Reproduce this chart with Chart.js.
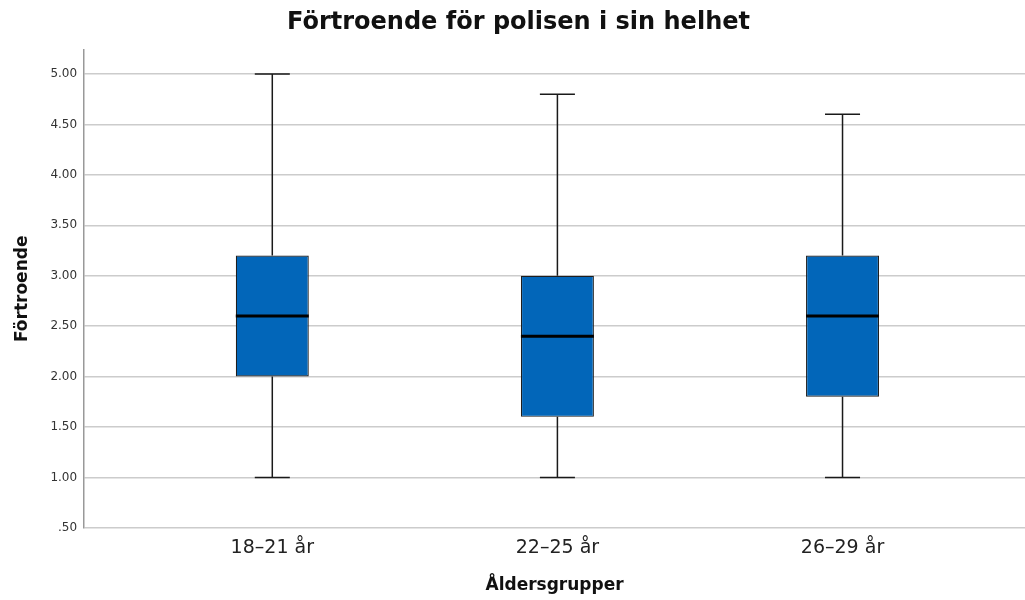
<!DOCTYPE html>
<html>
<head>
<meta charset="utf-8">
<script src="https://cdn.jsdelivr.net/npm/chart.js@4"></script>
<style>
  html, body { margin: 0; padding: 0; background: #fff; }
  #wrap { width: 1025px; height: 600px; }
</style>
</head>
<body>
<div id="wrap"><canvas id="boxChart"></canvas></div>
<script>
const categories = ['18–21 år', '22–25 år', '26–29 år'];
const mins    = [1.0, 1.0, 1.0];
const q1s     = [2.0, 1.6, 1.8];
const medians = [2.6, 2.4, 2.6];
const q3s     = [3.2, 3.0, 3.2];
const maxs    = [5.0, 4.8, 4.6];

const FONT = '"DejaVu Sans", sans-serif';

// whiskers behind the boxes, medians on top
const boxPlot = {
  id: 'boxPlot',
  beforeDatasetsDraw(chart) {
    const ctx = chart.ctx;
    const xs = chart.scales.x, ys = chart.scales.y;
    const bars = chart.getDatasetMeta(0).data;
    ctx.save();
    ctx.strokeStyle = '#1a1a1a';
    ctx.lineWidth = 1.5;
    categories.forEach((c, i) => {
      const x = xs.getPixelForValue(i);
      const cap = bars[i].width * 0.48;
      ctx.beginPath();
      ctx.moveTo(x, ys.getPixelForValue(mins[i]));
      ctx.lineTo(x, ys.getPixelForValue(q1s[i]));
      ctx.moveTo(x, ys.getPixelForValue(q3s[i]));
      ctx.lineTo(x, ys.getPixelForValue(maxs[i]));
      [mins[i], maxs[i]].forEach(v => {
        const y = ys.getPixelForValue(v);
        ctx.moveTo(x - cap / 2, y);
        ctx.lineTo(x + cap / 2, y);
      });
      ctx.stroke();
    });
    ctx.restore();
  },
  afterDatasetsDraw(chart) {
    const ctx = chart.ctx;
    const ys = chart.scales.y;
    const bars = chart.getDatasetMeta(0).data;
    ctx.save();
    ctx.strokeStyle = '#000';
    ctx.lineWidth = 3;
    bars.forEach((b, i) => {
      const y = ys.getPixelForValue(medians[i]);
      ctx.beginPath();
      ctx.moveTo(b.x - b.width / 2, y);
      ctx.lineTo(b.x + b.width / 2, y);
      ctx.stroke();
    });
    ctx.restore();
  }
};

new Chart(document.getElementById('boxChart'), {
  type: 'bar',
  data: {
    datasets: [{
      data: categories.map((c, i) => ({ x: i, y: [q1s[i], q3s[i]] })),
      backgroundColor: '#0266b9',
      borderColor: '#1e1e1e',
      borderWidth: 1.2,
      borderSkipped: false,
      barPercentage: 0.256,
      categoryPercentage: 1
    }]
  },
  options: {
    responsive: true,
    maintainAspectRatio: false,
    animation: false,
    layout: { padding: { left: 12, right: 0, top: 0, bottom: 4 } },
    plugins: {
      legend: { display: false },
      tooltip: { enabled: false },
      title: {
        display: true,
        text: 'Förtroende för polisen i sin helhet',
        color: '#111',
        font: { family: FONT, size: 24, weight: 'bold' },
        padding: { top: 8, bottom: 13 }
      }
    },
    scales: {
      x: {
        type: 'linear',
        offset: false,
        bounds: 'ticks',
        min: -0.66,
        max: 2.64,
        grid: { display: false, drawTicks: false },
        border: { display: false },
        ticks: {
          stepSize: 1,
          includeBounds: false,
          autoSkip: false,
          maxRotation: 0,
          padding: 9,
          color: '#222',
          font: { family: FONT, size: 19 },
          callback: v => categories[v] ?? ''
        },
        title: {
          display: true,
          text: 'Åldersgrupper',
          color: '#111',
          font: { family: FONT, size: 17, weight: 'bold' },
          padding: { top: 7, bottom: 0 }
        }
      },
      y: {
        min: 0.5,
        max: 5.24,
        grid: { color: '#cccccc', lineWidth: 1.5, drawTicks: false },
        border: { display: true, color: '#999', width: 1.5 },
        ticks: {
          stepSize: 0.5,
          includeBounds: false,
          padding: 7,
          color: '#333',
          font: { family: FONT, size: 12 },
          callback: v => v < 1 ? '.' + v.toFixed(2).split('.')[1] : v.toFixed(2)
        },
        title: {
          display: true,
          text: 'Förtroende',
          color: '#111',
          font: { family: FONT, size: 17, weight: 'bold' },
          padding: { top: 0, bottom: 11 }
        }
      }
    }
  },
  plugins: [boxPlot]
});
</script>
</body>
</html>
